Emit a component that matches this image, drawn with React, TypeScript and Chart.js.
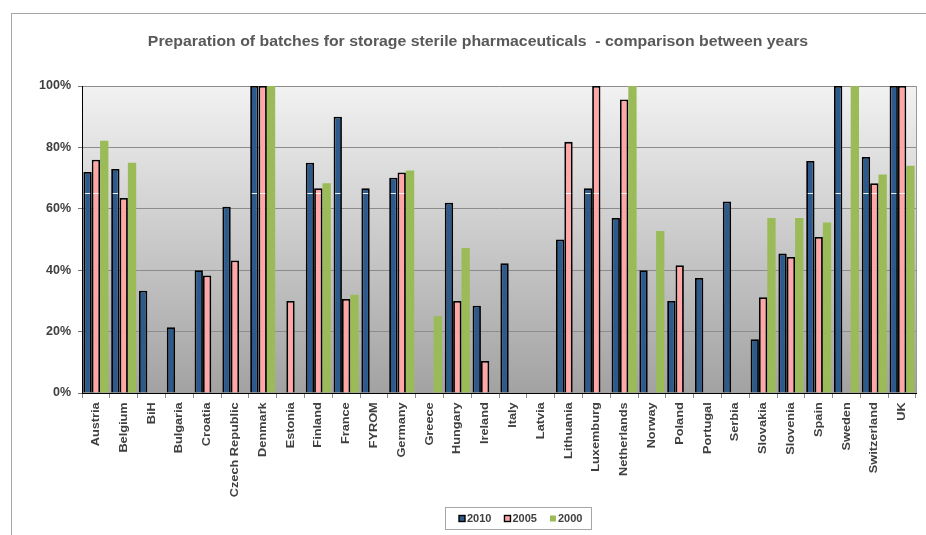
import React, { useEffect, useRef } from "react";
import { Chart, registerables } from "chart.js";

Chart.register(...registerables);

const TITLE = "Preparation of batches for storage sterile pharmaceuticals  - comparison between years";

const categories = [
  "Austria", "Belgium", "BiH", "Bulgaria", "Croatia", "Czech Republic", "Denmark", "Estonia",
  "Finland", "France", "FYROM", "Germany", "Greece", "Hungary", "Ireland", "Italy", "Latvia",
  "Lithuania", "Luxemburg", "Netherlands", "Norway", "Poland", "Portugal", "Serbia", "Slovakia",
  "Slovenia", "Spain", "Sweden", "Switzerland", "UK",
];

const values2010 = [
  72, 73, 33.3, 21.4, 40, 60.7, 100, null, 75, 90, 66.7, 70.1, null, 62, 28.4, 42.3, null,
  50, 66.7, 57, 40, 30, 37.5, 62.4, 17.5, 45.4, 75.6, 100, 76.9, 100,
];
const values2005 = [
  76, 63.5, null, null, 38.3, 43.2, 100, 30, 66.7, 30.6, null, 71.8, null, 30, 10.4, null, null,
  81.8, 100, 95.6, null, 41.6, null, null, 31.2, 44.3, 50.8, null, 68.3, 100,
];
const values2000 = [
  82.2, 75, null, null, null, null, 100, null, 68.3, 32, null, 72.5, 25, 47.2, null, null, null,
  null, null, 100, 52.8, null, null, null, 57, 57, 55.5, 100, 71.2, 74,
];

const seriesLabels = ["2010", "2005", "2000"];
const yTicks = [0, 20, 40, 60, 80, 100];
// faint white reference line drawn across the 2010/2005 bars in the original
const whiteLineLevel = 65;

const COLORS = {
  c2010: "#2C5A8C",
  c2005: "#FFA6A6",
  c2000: "#9BBB59",
};

const FONT = '"Liberation Sans", Arial, sans-serif';

const decorPlugin = {
  id: "decor",
  afterLayout(chart: any) {
    const xs = chart.scales.x;
    if (xs && !xs.__wrapped) {
      const orig = xs.drawLabels.bind(xs);
      xs.drawLabels = (area: any) => {
        const ctx = chart.ctx;
        const top = xs.top;
        ctx.save();
        ctx.translate(0, top);
        ctx.scale(1, 1.16);
        ctx.translate(0, -top);
        orig(area);
        ctx.restore();
      };
      xs.__wrapped = true;
    }
  },
  beforeDraw(chart: any) {
    const { ctx, chartArea } = chart;
    ctx.save();
    const g = ctx.createLinearGradient(0, chartArea.top, 0, chartArea.bottom);
    g.addColorStop(0, "#f2f2f2");
    g.addColorStop(1, "#a2a2a2");
    ctx.fillStyle = g;
    ctx.fillRect(chartArea.left, chartArea.top, chartArea.right - chartArea.left, chartArea.bottom - chartArea.top);
    ctx.restore();
  },
  beforeDatasetsDraw(chart: any) {
    const { ctx, chartArea } = chart;
    ctx.save();
    ctx.strokeStyle = "#9a9a9a";
    ctx.lineWidth = 1;
    ctx.beginPath();
    ctx.moveTo(Math.round(chartArea.right) + 0.5, chartArea.top);
    ctx.lineTo(Math.round(chartArea.right) + 0.5, chartArea.bottom);
    ctx.stroke();
    ctx.restore();
  },
  afterDatasetsDraw(chart: any) {
    const { ctx } = chart;
    const yScale = chart.scales.y;
    const yy = Math.round(yScale.getPixelForValue(whiteLineLevel)) + 0.5;
    ctx.save();
    ctx.strokeStyle = "rgba(255,255,255,0.9)";
    ctx.lineWidth = 1;
    [0, 1].forEach((di) => {
      const meta = chart.getDatasetMeta(di);
      const data = chart.data.datasets[di].data;
      meta.data.forEach((bar: any, i: number) => {
        const v = data[i];
        if (v == null || v <= whiteLineLevel) return;
        const half = bar.width / 2 - 1.5;
        ctx.beginPath();
        ctx.moveTo(bar.x - half, yy);
        ctx.lineTo(bar.x + half, yy);
        ctx.stroke();
      });
    });
    ctx.restore();
  },
  afterDraw(chart: any) {
    const { ctx } = chart;
    ctx.save();
    // title (slightly widened glyphs like the original rendering)
    ctx.font = `bold 14px ${FONT}`;
    ctx.fillStyle = "#595959";
    ctx.textAlign = "center";
    ctx.textBaseline = "middle";
    const cx = 478;
    ctx.save();
    ctx.translate(cx, 42);
    ctx.scale(1.13, 1);
    ctx.fillText(TITLE, 0, 0);
    ctx.restore();

    // legend
    const boxX = 445.5, boxY = 507.5, boxW = 146, boxH = 22;
    ctx.strokeStyle = "#a6a6a6";
    ctx.lineWidth = 1;
    ctx.strokeRect(boxX, boxY, boxW, boxH);
    ctx.font = `bold 11px ${FONT}`;
    ctx.textAlign = "left";
    ctx.textBaseline = "middle";
    const cy = boxY + boxH / 2 + 0.5;
    let x = 459;
    chart.data.datasets.forEach((ds: any) => {
      ctx.fillStyle = ds.backgroundColor;
      ctx.fillRect(x, cy - 3.5, 6, 6);
      if (ds.borderWidth > 0) {
        ctx.strokeStyle = "#000";
        ctx.lineWidth = 1.4;
        ctx.strokeRect(x, cy - 3.5, 6, 6);
      }
      ctx.fillStyle = "#404040";
      ctx.fillText(ds.label, x + 8, cy);
      const w = ctx.measureText(ds.label).width;
      x += 8 + w + 13;
    });
    ctx.restore();
  },
};

export default function App() {
  const canvasRef = useRef<HTMLCanvasElement | null>(null);

  useEffect(() => {
    if (!canvasRef.current) return;
    Chart.defaults.font.family = FONT;
    const chart = new Chart(canvasRef.current, {
      type: "bar",
      data: {
        labels: categories,
        datasets: [
          {
            label: seriesLabels[0],
            data: values2010,
            backgroundColor: COLORS.c2010,
            borderColor: "#000",
            borderWidth: 1.8,
          },
          {
            label: seriesLabels[1],
            data: values2005,
            backgroundColor: COLORS.c2005,
            borderColor: "#000",
            borderWidth: 1.8,
          },
          {
            label: seriesLabels[2],
            data: values2000,
            backgroundColor: COLORS.c2000,
            borderWidth: 0,
          },
        ] as any,
      },
      options: {
        animation: false,
        responsive: false,
        devicePixelRatio: 1,
        datasets: {
          bar: {
            categoryPercentage: 0.9,
            barPercentage: 1.0,
          },
        },
        layout: {
          padding: { top: 86, right: 10, bottom: 0, left: 0 },
        },
        plugins: {
          legend: { display: false },
          title: { display: false },
          tooltip: { enabled: false },
        },
        scales: {
          x: {
            type: "category",
            offset: true,
            grid: {
              offset: true,
              drawOnChartArea: false,
              drawTicks: true,
              tickLength: 5,
              tickColor: "#8c8c8c",
            },
            border: { display: true, color: "#000", width: 1 },
            ticks: {
              autoSkip: false,
              maxRotation: 90,
              minRotation: 90,
              padding: 3,
              color: "#404040",
              font: { size: 11, weight: "bold", family: FONT },
            },
            afterFit(scale: any) {
              scale.height = 142;
            },
          },
          y: {
            min: 0,
            max: 100,
            afterBuildTicks(scale: any) {
              scale.ticks = yTicks.map((v) => ({ value: v }));
            },
            grid: {
              color: "#8c8c8c",
              tickColor: "#7a7a7a",
              tickLength: 4,
              drawTicks: true,
            },
            border: { display: true, color: "#000", width: 1 },
            ticks: {
              padding: 7,
              color: "#404040",
              font: { size: 12.5, weight: "bold", family: FONT },
              callback: (v: any) => `${v}%`,
            },
            afterFit(scale: any) {
              scale.width = 82;
            },
          },
        },
      } as any,
      plugins: [decorPlugin],
    });
    return () => chart.destroy();
  }, []);

  return (
    <div
      style={{
        position: "fixed",
        left: 0,
        top: 0,
        width: 926,
        height: 535,
        overflow: "hidden",
        background: "#fff",
      }}
    >
      <div
        style={{
          position: "absolute",
          left: 11,
          top: 13,
          width: 2000,
          height: 2000,
          border: "1px solid #a6a6a6",
          boxSizing: "border-box",
        }}
      />
      <canvas
        ref={canvasRef}
        width={926}
        height={535}
        style={{ position: "absolute", left: 0, top: 0, width: 926, height: 535 }}
      />
    </div>
  );
}
